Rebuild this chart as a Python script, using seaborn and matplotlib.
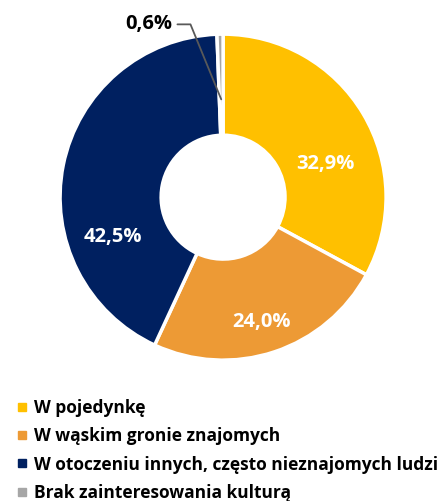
import numpy as np
import matplotlib
matplotlib.use("Agg")
import matplotlib.pyplot as plt
import seaborn as sns

categories = ["W pojedynkę", "W wąskim gronie znajomych",
              "W otoczeniu innych, często nieznajomych ludzi",
              "Brak zainteresowania kulturą"]
values = [32.9, 24.0, 42.5, 0.6]
labels = ["32,9%", "24,0%", "42,5%", "0,6%"]
colors = ["#FFC000", "#ED9A35", "#002060", "#A6A6A6"]

# where the value labels sit (angle in degrees, radius)
label_pos = [(18, 0.66), (-73, 0.8), (200, 0.72)]

sns.set_theme(style="white")
plt.rcParams['font.family'] = ['Open Sans', 'DejaVu Sans']

fig = plt.figure(figsize=(4.45, 5.01), dpi=100)
ax = fig.add_axes([0.135, 0.281, 0.7326, 0.651])

wedges, _ = ax.pie(values, colors=colors, startangle=90, counterclock=False,
                   wedgeprops=dict(width=0.62, edgecolor="white", linewidth=2.5))
ax.set_aspect("equal")
ax.set_xlim(-1, 1)
ax.set_ylim(-1, 1)

# labels inside wedges
for (a, r), lab in zip(label_pos, labels[:3]):
    ang = np.deg2rad(a)
    ax.text(r * np.cos(ang), r * np.sin(ang), lab, ha="center", va="center",
            color="white", fontsize=14.5, fontweight="bold")

# small slice label with leader line
w = wedges[3]
ang = np.deg2rad((w.theta1 + w.theta2) / 2)
x0, y0 = 0.6 * np.cos(ang), 0.6 * np.sin(ang)
ax.plot([x0, -0.2, -0.28], [y0, 1.06, 1.06], color="#595959", lw=1.3,
        clip_on=False)
ax.text(-0.31, 1.06, labels[3], ha="right", va="center", color="black",
        fontsize=14.5, fontweight="bold")

# legend
handles = [plt.Line2D([], [], marker="s", ls="", color=c, markersize=6)
           for c in colors]
fig.legend(handles, categories, loc="upper left", bbox_to_anchor=(0.015, 0.218),
           frameon=False, prop=dict(size=12.5, weight="bold"), handletextpad=0.2,
           labelspacing=0.6, handlelength=1.0, borderaxespad=0,
           labelcolor="black")

fig.savefig("out.png", dpi=100)
